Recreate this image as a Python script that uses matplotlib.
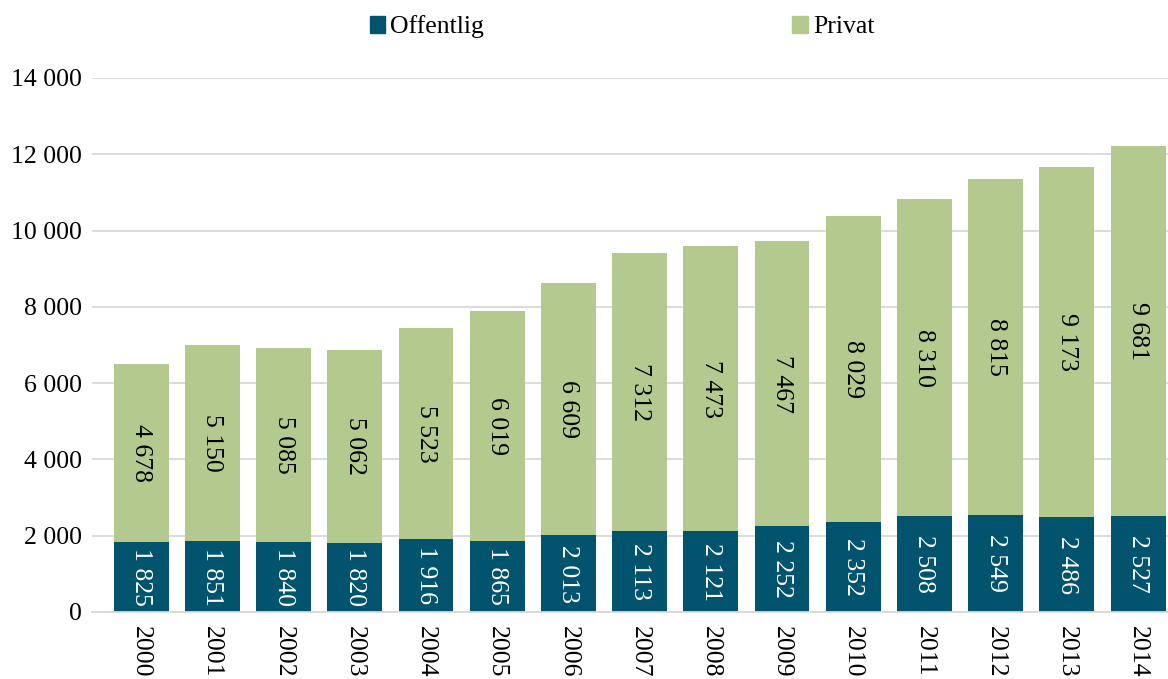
import numpy as np
import matplotlib.pyplot as plt
from matplotlib.patches import Patch

years = [str(y) for y in range(2000, 2015)]
offentlig = [1825, 1851, 1840, 1820, 1916, 1865, 2013, 2113, 2121, 2252, 2352, 2508, 2549, 2486, 2527]
privat = [4678, 5150, 5085, 5062, 5523, 6019, 6609, 7312, 7473, 7467, 8029, 8310, 8815, 9173, 9681]

dark = "#02546E"
green = "#B3C98D"

plt.rcParams['font.family'] = ['Liberation Serif', 'DejaVu Serif']
fs = 18.5


def fmt(v):
    return f"{v:,}".replace(",", " ")


fig = plt.figure(figsize=(11.68, 6.79), dpi=100)
W, H = 1168, 679
ax = fig.add_axes([92 / W, 1 - 612 / H, 1 - 92 / W, (612 - 78) / H])

x = np.arange(len(years))
ax.bar(x, offentlig, width=0.77, color=dark, zorder=2)
ax.bar(x, privat, width=0.77, bottom=offentlig, color=green, zorder=2)

for i in range(len(years)):
    ax.text(x[i], offentlig[i] / 2, fmt(offentlig[i]), rotation=-90, ha='center', va='center',
            color='white', fontsize=fs, zorder=3)
    ax.text(x[i], offentlig[i] + privat[i] / 2, fmt(privat[i]), rotation=-90, ha='center', va='center',
            color='black', fontsize=fs, zorder=3)

ax.set_xlim(-0.69, 14.42)
ax.set_ylim(0, 14000)
ax.set_yticks(np.arange(0, 14001, 2000))
ax.set_yticklabels([fmt(v) for v in range(0, 14001, 2000)], fontsize=fs)
ax.set_xticks(x)
ax.set_xticklabels(years, rotation=-90, fontsize=fs, va='top', ha='center')
ax.tick_params(axis='both', length=0)
ax.tick_params(axis='y', pad=7)
ax.tick_params(axis='x', pad=10)

ax.grid(axis='y', color='#D9D9D9', linewidth=1.3, zorder=0)
for s in ['top', 'right', 'left']:
    ax.spines[s].set_visible(False)
ax.spines['bottom'].set_color('#D9D9D9')
ax.spines['bottom'].set_linewidth(1.3)

handles = [Patch(color=dark, label='Offentlig'), Patch(color=green, label='Privat')]
fig.legend(handles=handles, loc='center', bbox_to_anchor=(622 / W, 1 - 27 / H), ncol=2,
           frameon=False, fontsize=fs, handlelength=0.6, handleheight=0.6, handletextpad=0.2,
           columnspacing=12)

fig.savefig("out.png", dpi=100)
